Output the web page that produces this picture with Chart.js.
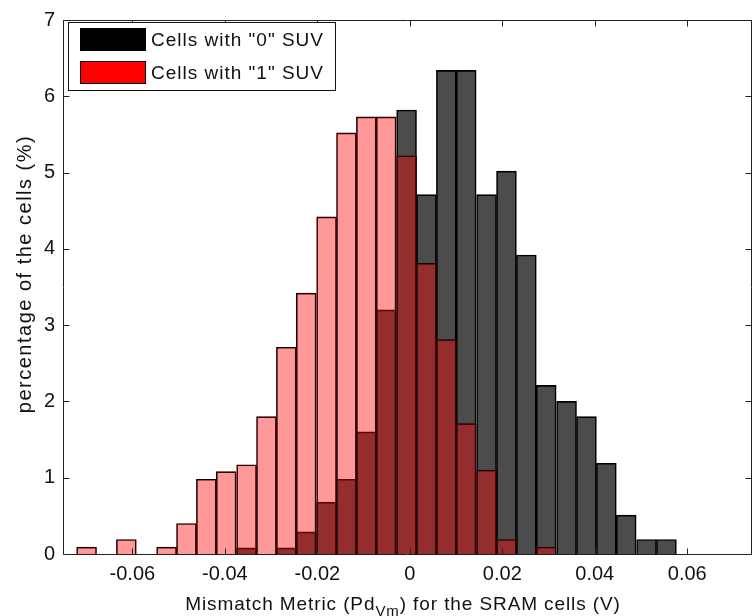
<!DOCTYPE html>
<html>
<head>
<meta charset="utf-8">
<script src="https://cdn.jsdelivr.net/npm/chart.js@4.4.0/dist/chart.umd.min.js"></script>
<style>
  html, body { margin: 0; padding: 0; background: #fff; }
  #wrap { position: relative; width: 753px; height: 616px; }
</style>
</head>
<body>
<div id="wrap"><canvas id="histChart" width="753" height="616"></canvas></div>
<script>
// histogram bin centres (V)
var binCenters = [-0.0699, -0.0656, -0.0613, -0.0570, -0.0526, -0.0483, -0.0440, -0.0397, -0.0353, -0.0310,
                  -0.0267, -0.0224, -0.0180, -0.0137, -0.0094, -0.0051, -0.0007, 0.0036, 0.0079, 0.0122,
                  0.0166, 0.0209, 0.0252, 0.0295, 0.0339, 0.0382, 0.0425, 0.0468, 0.0512, 0.0555];

// percentage of cells per bin
var suv0Pct = [0, 0, 0, 0, 0, 0, 0, 0, 0.08, 0,
               0.08, 0.29, 0.68, 0.98, 1.60, 3.20, 5.82, 4.71, 6.34, 6.34,
               4.71, 5.02, 3.92, 2.21, 2.00, 1.80, 1.19, 0.51, 0.19, 0.19];
var suv1Pct = [0.09, 0, 0.19, 0, 0.09, 0.40, 0.98, 1.08, 1.17, 1.80,
               2.71, 3.42, 4.42, 5.52, 5.73, 5.73, 5.22, 3.81, 2.81, 1.71,
               1.10, 0.19, 0, 0.09, 0, 0, 0, 0, 0, 0];

var seriesNames = ['Cells with "0" SUV', 'Cells with "1" SUV'];
var xTickValues = [-0.06, -0.04, -0.02, 0, 0.02, 0.04, 0.06];
var yTickValues = [0, 1, 2, 3, 4, 5, 6, 7];

var FONT = '"Liberation Sans", Arial, sans-serif';

function toPoints(vals) {
  return binCenters.map(function (x, i) { return { x: x, y: vals[i] }; });
}

// frame, inside ticks, legend and axis titles in the matlab look
var matlabDecor = {
  id: 'matlabDecor',
  afterDraw: function (chart) {
    var ctx = chart.ctx;
    var a = chart.chartArea;
    var xs = chart.scales.x, ys = chart.scales.y;
    var L = Math.round(a.left) + 0.5, R = Math.round(a.right) - 0.5;
    var T = Math.round(a.top) + 0.5, B = Math.round(a.bottom) + 0.5;
    ctx.save();
    ctx.strokeStyle = '#222';
    ctx.lineWidth = 1;
    ctx.beginPath();
    ctx.rect(L, T, R - L, B - T);
    ctx.stroke();

    var tl = 6;
    ctx.beginPath();
    xTickValues.forEach(function (v) {
      var px = Math.round(xs.getPixelForValue(v)) + 0.5;
      ctx.moveTo(px, B); ctx.lineTo(px, B - tl);
      ctx.moveTo(px, T); ctx.lineTo(px, T + tl);
    });
    yTickValues.forEach(function (v) {
      var py = Math.round(ys.getPixelForValue(v)) + 0.5;
      ctx.moveTo(L, py); ctx.lineTo(L + tl, py);
      ctx.moveTo(R, py); ctx.lineTo(R - tl, py);
    });
    ctx.stroke();

    // legend
    var lx = 68.5, ly = 22.5, lw = 267, lh = 68;
    ctx.fillStyle = '#fff';
    ctx.fillRect(lx, ly, lw, lh);
    ctx.strokeStyle = '#111';
    ctx.strokeRect(lx, ly, lw, lh);
    var swatch = ['#000', '#ff0000'];
    ctx.font = '19px ' + FONT;
    ctx.letterSpacing = '1px';
    ctx.textBaseline = 'middle';
    ctx.textAlign = 'left';
    for (var i = 0; i < 2; i++) {
      var sy = 28.5 + i * 33;
      ctx.fillStyle = swatch[i];
      ctx.fillRect(80.5, sy, 65, 22);
      ctx.strokeStyle = '#000';
      ctx.strokeRect(80.5, sy, 65, 22);
      ctx.fillStyle = '#111';
      ctx.fillText(seriesNames[i], 151, sy + 12);
    }

    // x title with subscript
    ctx.fillStyle = '#111';
    ctx.textBaseline = 'alphabetic';
    ctx.letterSpacing = '0.9px';
    var p1 = 'Mismatch Metric (Pd', sub = 'Vm', p2 = ') for the SRAM cells (V)';
    var big = '19px ' + FONT, small = '15px ' + FONT;
    ctx.font = big;
    var w1 = ctx.measureText(p1).width, w3 = ctx.measureText(p2).width;
    ctx.font = small;
    var w2 = ctx.measureText(sub).width;
    var tx = 403 - (w1 + w2 + w3) / 2, ty = 610;
    ctx.font = big; ctx.fillText(p1, tx, ty);
    ctx.font = small; ctx.fillText(sub, tx + w1, ty + 6);
    ctx.font = big; ctx.fillText(p2, tx + w1 + w2, ty);

    // y title
    ctx.letterSpacing = '1.5px';
    ctx.font = '20px ' + FONT;
    ctx.translate(25, 274);
    ctx.rotate(-Math.PI / 2);
    ctx.textAlign = 'center';
    ctx.textBaseline = 'middle';
    ctx.fillText('percentage of the cells (%)', 0, 0);
    ctx.restore();
  }
};

var ctx = document.getElementById('histChart').getContext('2d');
var chart = new Chart(ctx, {
  type: 'bar',
  data: {
    datasets: [
      {
        label: seriesNames[0],
        data: toPoints(suv0Pct),
        backgroundColor: 'rgba(0,0,0,0.7)',
        borderColor: '#000',
        borderWidth: 1,
        order: 2
      },
      {
        label: seriesNames[1],
        data: toPoints(suv1Pct),
        backgroundColor: 'rgba(255,0,0,0.4)',
        borderColor: '#000',
        borderWidth: 1,
        order: 1
      }
    ]
  },
  options: {
    responsive: false,
    animation: false,
    grouped: false,
    barPercentage: 1,
    categoryPercentage: 1,
    layout: { padding: { left: 0, right: 1, top: 14, bottom: 0 } },
    plugins: { legend: { display: false }, tooltip: { enabled: false } },
    scales: {
      x: {
        type: 'linear',
        offset: false,
        min: -0.075,
        max: 0.074,
        grid: { display: false, drawTicks: false },
        border: { display: false },
        afterBuildTicks: function (s) { s.ticks = xTickValues.map(function (v) { return { value: v }; }); },
        afterFit: function (s) { s.height = 62; },
        ticks: {
          padding: 8,
          color: '#111',
          font: { family: FONT, size: 20 },
          maxRotation: 0,
          callback: function (v) { return v === 0 ? '0' : v.toFixed(2); }
        }
      },
      y: {
        min: 0,
        max: 7,
        grid: { display: false, drawTicks: false },
        border: { display: false },
        afterBuildTicks: function (s) { s.ticks = yTickValues.map(function (v) { return { value: v }; }); },
        afterFit: function (s) { s.width = 63; },
        ticks: {
          padding: 8,
          color: '#111',
          font: { family: FONT, size: 20 }
        }
      }
    }
  },
  plugins: [matlabDecor]
});
</script>
</body>
</html>
